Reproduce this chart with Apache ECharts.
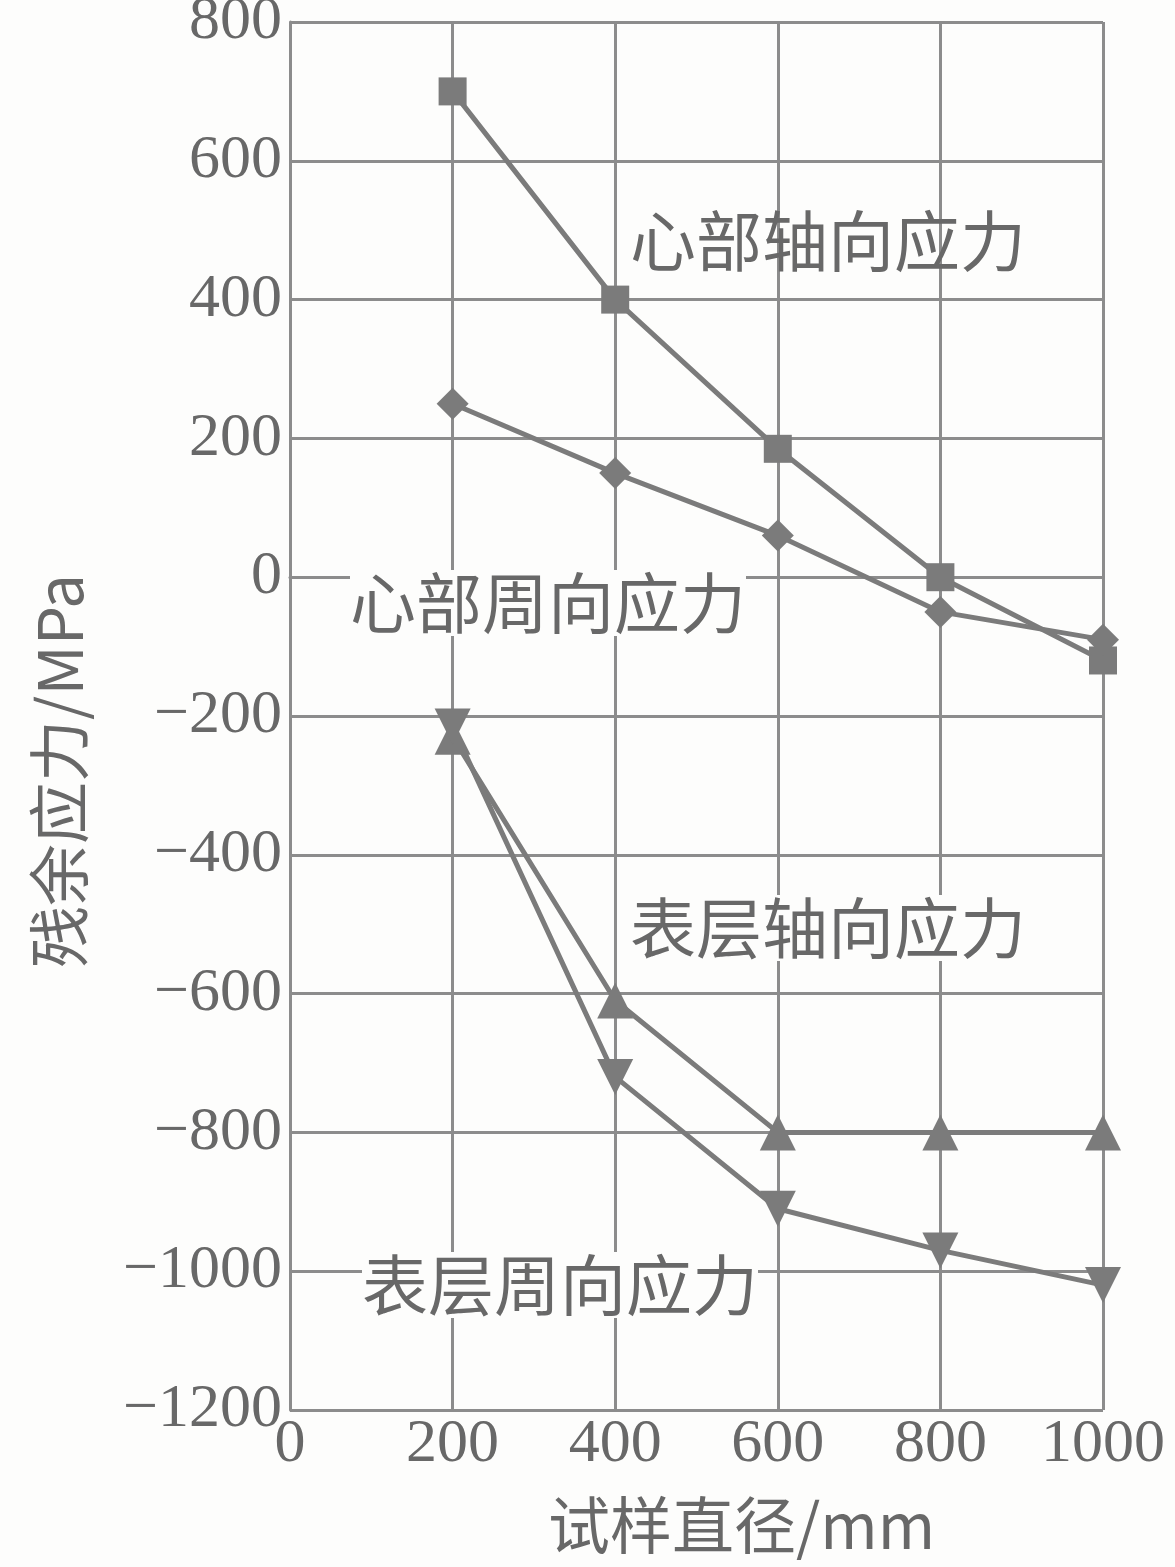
<!DOCTYPE html>
<html><head><meta charset="utf-8">
<script src="https://cdn.jsdelivr.net/npm/echarts@6/dist/echarts.min.js"></script>
<style>html,body{margin:0;padding:0;background:#fdfdfc}#c{width:1175px;height:1567px}</style>
</head><body><div id="c"></div>
<script>
const diameters = [200, 400, 600, 800, 1000];
const coreAxial = [700, 400, 185, 0, -120];
const coreHoop = [250, 150, 60, -50, -90];
const surfAxial = [-230, -610, -800, -800, -800];
const surfHoop = [-215, -720, -910, -970, -1020];
const seriesNames = ['心部轴向应力', '心部周向应力', '表层轴向应力', '表层周向应力'];
const xTicks = [0, 200, 400, 600, 800, 1000];
const yTicks = [-1200, -1000, -800, -600, -400, -200, 0, 200, 400, 600, 800];

const lineColor = '#7b7b7b';
const gridColor = '#8c8c8c';
const textColor = '#686868';
const numFont = '"Liberation Serif", "DejaVu Serif", serif';
const cjkFont = '"Noto Sans CJK SC", sans-serif';

function pairs(vals) { return diameters.map((d, i) => [d, vals[i]]); }
function mk(name, vals, symbol, size, rot) {
  return {
    name, type: 'line', data: pairs(vals), symbol, symbolSize: size, symbolRotate: rot || 0,
    lineStyle: { color: lineColor, width: 5 },
    itemStyle: { color: lineColor },
    z: 3
  };
}

const chart = echarts.init(document.getElementById('c'));
chart.setOption({
  backgroundColor: '#fdfdfc',
  animation: false,
  grid: { left: 290, right: 72, top: 22, bottom: 157, outerBoundsMode: 'none', containLabel: false },
  xAxis: {
    type: 'value', min: 0, max: 1000, interval: 200,
    name: '试样直径/mm', nameLocation: 'middle', nameGap: 84,
    nameTextStyle: { fontFamily: cjkFont, fontSize: 62, color: textColor, padding: [0, 0, 0, 90] },
    axisLine: { show: true, lineStyle: { color: gridColor, width: 3 } },
    axisTick: { show: false },
    axisLabel: { fontFamily: numFont, fontSize: 62, color: textColor, margin: 4,
      formatter: v => xTicks.includes(v) ? String(v) : '' },
    splitLine: { show: true, lineStyle: { color: gridColor, width: 3 } }
  },
  yAxis: {
    type: 'value', min: -1200, max: 800, interval: 200,
    name: '残余应力/MPa', nameLocation: 'middle', nameGap: 200,
    nameTextStyle: { fontFamily: cjkFont, fontSize: 62, color: textColor, padding: [0, 110, 0, 0] },
    axisLine: { show: true, lineStyle: { color: gridColor, width: 3 } },
    axisTick: { show: false },
    axisLabel: { fontFamily: numFont, fontSize: 62, color: textColor, margin: 8,
      formatter: v => yTicks.includes(v) ? (v < 0 ? '−' + Math.abs(v) : String(v)) : '' },
    splitLine: { show: true, lineStyle: { color: gridColor, width: 3 } }
  },
  series: [
    mk(seriesNames[0], coreAxial, 'rect', 28),
    mk(seriesNames[1], coreHoop, 'diamond', 32),
    mk(seriesNames[2], surfAxial, 'triangle', 36),
    mk(seriesNames[3], surfHoop, 'triangle', 36, 180)
  ],
  graphic: [
    { type: 'text', left: 630, top: 208, z: 10, style: { text: seriesNames[0], font: '66px ' + cjkFont, fill: textColor } },
    { type: 'text', left: 350, top: 570, z: 10, style: { text: seriesNames[1], font: '66px ' + cjkFont, fill: textColor, backgroundColor: '#fdfdfc' } },
    { type: 'text', left: 630, top: 895, z: 10, style: { text: seriesNames[2], font: '66px ' + cjkFont, fill: textColor, backgroundColor: '#fdfdfc' } },
    { type: 'text', left: 362, top: 1252, z: 10, style: { text: seriesNames[3], font: '66px ' + cjkFont, fill: textColor, backgroundColor: '#fdfdfc' } }
  ]
});
</script></body></html>
